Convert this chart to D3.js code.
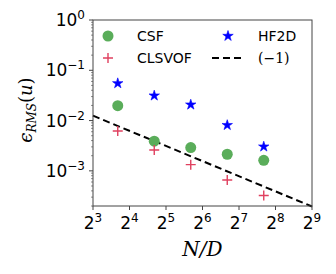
<!DOCTYPE html>
<html>
<head>
<meta charset="utf-8">
<script src="https://cdn.jsdelivr.net/npm/d3@7"></script>
<style>
  body { margin: 0; background: #fff; }
  svg { display: block; }
</style>
</head>
<body>
<div id="chart"></div>
<script>
// data
const nOverD = [12.8, 25.6, 51.2, 102.4, 204.8];
const csf    = [0.0198, 0.0039, 0.0029, 0.00214, 0.00162];
const hf2d   = [0.055, 0.0313, 0.0207, 0.0081, 0.00303];
const clsvof = [0.0062, 0.0026, 0.00133, 0.00066, 0.000323];
const slopeC = 0.1; // reference line eps = C / (N/D)
const xTicks = [3, 4, 5, 6, 7, 8, 9];   // powers of 2
const yTicks = [-3, -2, -1, 0];         // powers of 10

const width = 336, height = 274;
const margin = { left: 93, right: 24, top: 20, bottom: 68 };

const svg = d3.select('#chart').append('svg')
  .attr('width', width).attr('height', height);

const x = d3.scaleLog().base(2).domain([8, 512])
  .range([margin.left, width - margin.right]);
const y = d3.scaleLog().domain([2e-4, 1])
  .range([height - margin.bottom, margin.top]);

const green = '#5aad5a', red = '#e0405f', blue = '#0000ff';

// reference line (-1)
const lineData = [8, 512].map(v => [v, slopeC / v]);
svg.append('path')
  .attr('d', d3.line().x(d => x(d[0])).y(d => y(d[1]))(lineData))
  .attr('stroke', '#000').attr('stroke-width', 2)
  .attr('stroke-dasharray', '7,4').attr('fill', 'none');

// spines
svg.append('rect')
  .attr('x', margin.left).attr('y', margin.top)
  .attr('width', x(512) - x(8)).attr('height', y(2e-4) - y(1))
  .attr('fill', 'none').attr('stroke', '#444').attr('stroke-width', 1);

// x axis ticks
const xg = svg.append('g');
xTicks.forEach(p => {
  const px = x(Math.pow(2, p));
  xg.append('line').attr('x1', px).attr('x2', px)
    .attr('y1', y(2e-4)).attr('y2', y(2e-4) + 4).attr('stroke', '#444');
  const t = xg.append('text').attr('x', px).attr('y', y(2e-4) + 23)
    .attr('text-anchor', 'middle').attr('font-family', 'DejaVu Sans')
    .attr('font-size', 17).attr('fill', '#000');
  t.append('tspan').text('2');
  t.append('tspan').attr('dy', -7).attr('font-size', 12).text(p);
});

// y axis ticks, major and minor
const yg = svg.append('g');
for (let e = -4; e <= 0; e++) {
  for (let m = 1; m < 10; m++) {
    const v = m * Math.pow(10, e);
    if (v < 2e-4 || v > 1) continue;
    const py = y(v);
    yg.append('line').attr('x1', margin.left - (m === 1 ? 4 : 2)).attr('x2', margin.left)
      .attr('y1', py).attr('y2', py).attr('stroke', '#444')
      .attr('stroke-width', m === 1 ? 1 : 0.6);
  }
}
yTicks.forEach(p => {
  const py = y(Math.pow(10, p));
  const t = yg.append('text').attr('x', margin.left - 8).attr('y', py + 6)
    .attr('text-anchor', 'end').attr('font-family', 'DejaVu Sans')
    .attr('font-size', 17).attr('fill', '#000');
  t.append('tspan').text('10');
  t.append('tspan').attr('dy', -7).attr('font-size', 12)
    .text(p === 0 ? '0' : '\u2212' + Math.abs(p));
});

// axis labels
svg.append('text')
  .attr('x', x(64)).attr('y', 256)
  .attr('text-anchor', 'middle').attr('font-family', 'DejaVu Serif')
  .attr('font-style', 'italic').attr('font-size', 20).text('N/D');

const yl = svg.append('text')
  .attr('transform', 'translate(32,' + ((y(1) + y(2e-4)) / 2 - 3) + ') rotate(-90)')
  .attr('text-anchor', 'middle').attr('font-family', 'DejaVu Serif')
  .attr('font-style', 'italic').attr('font-size', 18);
yl.append('tspan').text('\u03f5');
yl.append('tspan').attr('dy', 4).attr('font-size', 12).text('RMS');
yl.append('tspan').attr('dy', -4).attr('font-style', 'normal').text('(');
yl.append('tspan').text('u');
yl.append('tspan').attr('font-style', 'normal').text(')');

// markers
const star = d3.symbol().type(d3.symbolStar).size(34);
const cross = 'M-5,0H5M0,-5V5';

function circles(vals, col) {
  svg.append('g').selectAll('circle').data(vals).join('circle')
    .attr('cx', (d, i) => x(nOverD[i])).attr('cy', d => y(d))
    .attr('r', 5.5).attr('fill', col);
}
function stars(vals, col) {
  svg.append('g').selectAll('path').data(vals).join('path')
    .attr('d', star)
    .attr('transform', (d, i) => 'translate(' + x(nOverD[i]) + ',' + y(d) + ')')
    .attr('fill', col).attr('stroke', col).attr('stroke-width', 0.6);
}
function crosses(vals, col) {
  svg.append('g').selectAll('path').data(vals).join('path')
    .attr('d', cross)
    .attr('transform', (d, i) => 'translate(' + x(nOverD[i]) + ',' + y(d) + ')')
    .attr('stroke', col).attr('stroke-width', 1.4).attr('fill', 'none');
}
circles(csf, green);
stars(hf2d, blue);
crosses(clsvof, red);

// legend
const lg = svg.append('g').attr('font-family', 'DejaVu Sans').attr('font-size', 14);
lg.append('circle').attr('cx', 108).attr('cy', 36).attr('r', 5.5).attr('fill', green);
lg.append('text').attr('x', 137).attr('y', 41).text('CSF');
lg.append('path').attr('d', cross).attr('transform', 'translate(108,58)')
  .attr('stroke', red).attr('stroke-width', 1.4);
lg.append('text').attr('x', 137).attr('y', 63).text('CLSVOF');
lg.append('path').attr('d', star).attr('transform', 'translate(228,36)')
  .attr('fill', blue).attr('stroke', blue).attr('stroke-width', 0.6);
lg.append('text').attr('x', 258).attr('y', 41).text('HF2D');
lg.append('line').attr('x1', 212).attr('x2', 243).attr('y1', 58).attr('y2', 58)
  .attr('stroke', '#000').attr('stroke-width', 2).attr('stroke-dasharray', '7,4');
lg.append('text').attr('x', 258).attr('y', 63).attr('font-family', 'DejaVu Serif')
  .text('(\u22121)');
</script>
</body>
</html>
